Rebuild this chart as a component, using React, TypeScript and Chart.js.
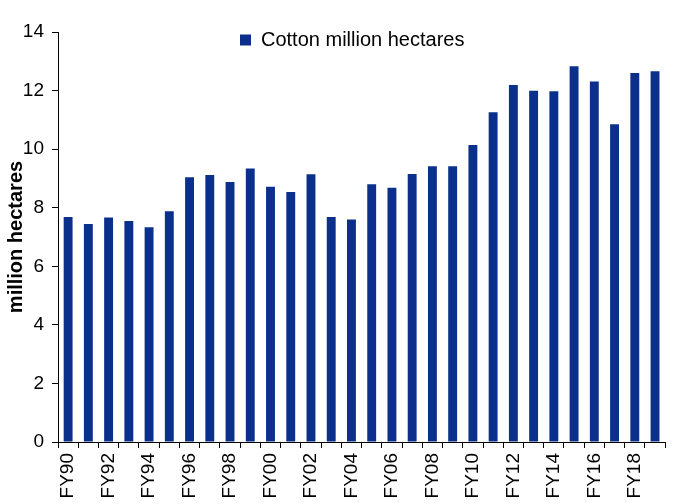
import React, { useEffect, useRef } from "react";
import { Chart, registerables } from "chart.js";

Chart.register(...registerables);

// Fiscal years on the category axis
const years = [
  "FY90", "FY91", "FY92", "FY93", "FY94", "FY95", "FY96", "FY97", "FY98", "FY99",
  "FY00", "FY01", "FY02", "FY03", "FY04", "FY05", "FY06", "FY07", "FY08", "FY09",
  "FY10", "FY11", "FY12", "FY13", "FY14", "FY15", "FY16", "FY17", "FY18", "FY19",
];

// Cotton sown area, million hectares
const cottonArea = [
  7.68, 7.44, 7.67, 7.55, 7.33, 7.88, 9.04, 9.12, 8.88, 9.34,
  8.72, 8.54, 9.14, 7.68, 7.6, 8.8, 8.68, 9.15, 9.42, 9.42,
  10.14, 11.26, 12.19, 11.99, 11.98, 12.83, 12.31, 10.85, 12.6, 12.66,
];

const seriesName = "Cotton million hectares";
const yAxisTitle = "million hectares";
const yMin = 0;
const yMax = 14;
const yStep = 2;

const BAR_COLOR = "#0B308C";
const FONT = "'Liberation Sans', Arial, Helvetica, sans-serif";

// Puts the legend inside the plot, near the top.
const legendPlacement = {
  id: "legendPlacement",
  afterLayout(chart: any) {
    const lg = chart.legend;
    if (!lg) return;
    const w = lg.width;
    const h = lg.height;
    lg.left = 232;
    lg.right = lg.left + w;
    lg.top = 22;
    lg.bottom = lg.top + h;
  },
};

export default function App() {
  const canvasRef = useRef<HTMLCanvasElement | null>(null);

  useEffect(() => {
    if (!canvasRef.current) return;
    Chart.defaults.font.family = FONT;
    const chart = new Chart(canvasRef.current, {
      type: "bar",
      data: {
        labels: years,
        datasets: [
          {
            label: seriesName,
            data: cottonArea,
            backgroundColor: BAR_COLOR,
            borderWidth: 0,
            barPercentage: 0.44,
            categoryPercentage: 1,
          },
        ],
      },
      options: {
        responsive: false,
        animation: false,
        layout: { padding: { top: 32, right: 10, bottom: 0, left: 0 } },
        plugins: {
          legend: {
            position: "chartArea",
            align: "start",
            labels: {
              boxWidth: 11,
              boxHeight: 11,
              padding: 8,
              color: "#000",
              font: { size: 20, family: FONT },
            },
          },
          tooltip: { enabled: false },
        },
        scales: {
          x: {
            afterFit: (scale: any) => {
              scale.height = 62;
            },
            grid: {
              drawOnChartArea: false,
              drawTicks: true,
              tickLength: 6,
              color: "#000",
              offset: true,
            },
            border: { color: "#000", width: 1 },
            ticks: {
              autoSkip: false,
              minRotation: 90,
              maxRotation: 90,
              padding: 5,
              color: "#000",
              font: { size: 19, family: FONT },
              callback: (_v: any, i: number) => (i % 2 === 0 ? years[i] : ""),
            },
          },
          y: {
            min: yMin,
            max: yMax,
            afterFit: (scale: any) => {
              scale.width = 58;
            },
            grid: {
              drawOnChartArea: false,
              drawTicks: true,
              tickLength: 6,
              color: "#000",
            },
            border: { color: "#000", width: 1 },
            ticks: {
              stepSize: yStep,
              padding: 8,
              color: "#000",
              font: { size: 19, family: FONT },
            },
            title: {
              display: true,
              text: yAxisTitle,
              color: "#000",
              padding: { top: 4, bottom: 0 },
              font: { size: 20, weight: "bold", family: FONT },
            },
          },
        },
      },
      plugins: [legendPlacement],
    });
    return () => chart.destroy();
  }, []);

  return (
    <div style={{ position: "absolute", left: 0, top: 0, width: 683, height: 504, background: "#fff" }}>
      <canvas ref={canvasRef} width={683} height={504} style={{ display: "block" }} />
    </div>
  );
}
